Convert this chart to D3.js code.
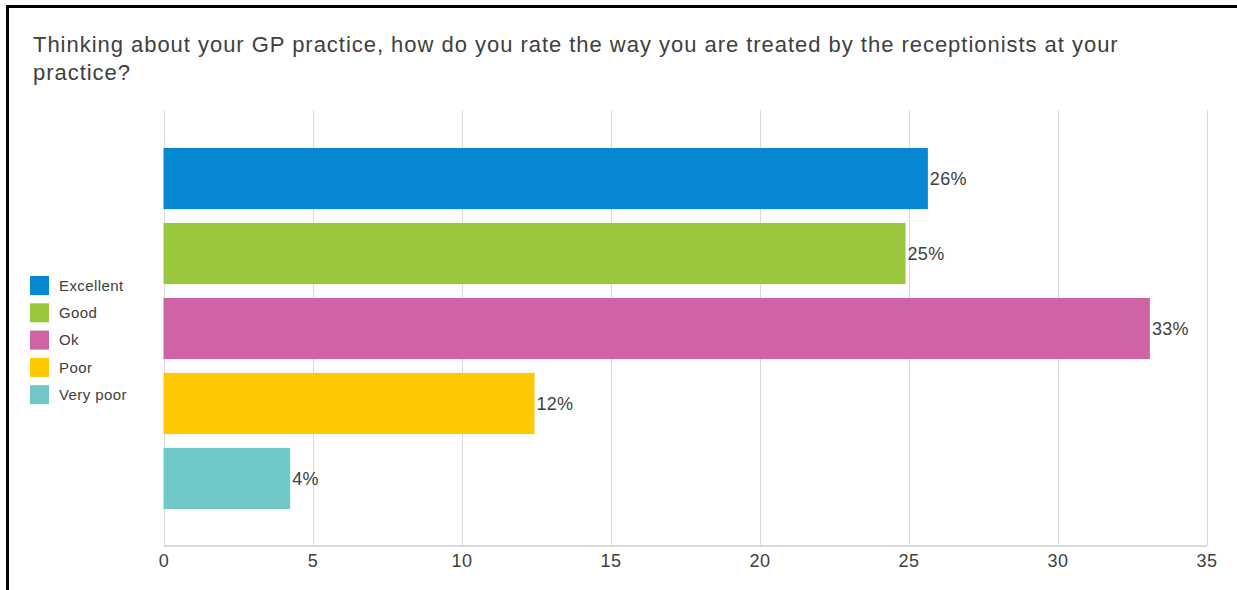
<!DOCTYPE html>
<html>
<head>
<meta charset="utf-8">
<script src="https://cdn.jsdelivr.net/npm/d3@7"></script>
<style>
  html, body { margin: 0; padding: 0; background: #fff; }
  svg { display: block; font-family: "Liberation Sans", Arial, sans-serif; }
</style>
</head>
<body>
<svg id="chart" width="1237" height="590"></svg>
<script>
// Survey answers and their shares (percent of respondents)
const categories = ["Excellent", "Good", "Ok", "Poor", "Very poor"];
const values = [25.65, 24.9, 33.1, 12.45, 4.25];
const colors = ["#0788d2", "#9ac73e", "#d063a5", "#fec902", "#71c9c7"];
const xTicks = [0, 5, 10, 15, 20, 25, 30, 35];
const titleLines = [
  "Thinking about your GP practice, how do you rate the way you are treated by the receptionists at your",
  "practice?"
];

const svg = d3.select("#chart");
const textColor = "#404040";

// outer frame (left and top edges visible)
svg.append("rect")
  .attr("x", 7.5).attr("y", 6.5)
  .attr("width", 1240).attr("height", 600)
  .attr("fill", "none").attr("stroke", "#000").attr("stroke-width", 3);

// title
const title = svg.append("text")
  .attr("x", 33).attr("y", 52)
  .attr("fill", textColor)
  .style("font-size", "22px")
  .style("letter-spacing", "0.97px");
titleLines.forEach((line, i) => {
  title.append("tspan").attr("x", 33).attr("dy", i === 0 ? 0 : 28).text(line);
});

// scales
const x = d3.scaleLinear().domain([0, 35]).range([163.5, 1206.5]);
const y = d3.scaleBand().domain(categories).range([148, 509]).paddingInner(0.185).paddingOuter(0);
const plotTop = 110, plotBottom = 545.5;

// vertical gridlines
svg.append("g").selectAll("line")
  .data(xTicks)
  .join("line")
  .attr("x1", d => Math.round(x(d)) + 0.5).attr("x2", d => Math.round(x(d)) + 0.5)
  .attr("y1", plotTop).attr("y2", plotBottom)
  .attr("stroke", "#dadada").attr("stroke-width", 1);

// baseline axis with tick labels
const axis = svg.append("g")
  .attr("transform", `translate(0,${plotBottom})`)
  .call(d3.axisBottom(x).tickValues(xTicks).tickSize(0).tickPadding(9).tickFormat(d3.format("d")));
axis.select(".domain").attr("stroke", "#dadada").attr("stroke-width", 2);
axis.selectAll("text")
  .attr("fill", textColor)
  .style("font-size", "18px")
  .style("letter-spacing", "0.5px")
  .style("font-family", "Liberation Sans, Arial, sans-serif");

// bars
svg.append("g").selectAll("rect")
  .data(values)
  .join("rect")
  .attr("x", x(0))
  .attr("y", (d, i) => y(categories[i]))
  .attr("width", d => x(d) - x(0))
  .attr("height", y.bandwidth())
  .attr("fill", (d, i) => colors[i]);

// value labels
svg.append("g").selectAll("text")
  .data(values)
  .join("text")
  .attr("x", d => x(d) + 2)
  .attr("y", (d, i) => y(categories[i]) + y.bandwidth() / 2)
  .attr("dy", "0.36em")
  .attr("fill", textColor)
  .style("font-size", "18px")
  .style("letter-spacing", "0.3px")
  .text(d => Math.round(d) + "%");

// legend
const legend = svg.append("g").attr("transform", "translate(30,276)");
const item = legend.selectAll("g")
  .data(categories)
  .join("g")
  .attr("transform", (d, i) => `translate(0,${i * 27.3})`);
item.append("rect")
  .attr("width", 19).attr("height", 19)
  .attr("fill", (d, i) => colors[i]);
item.append("text")
  .attr("x", 29).attr("y", 9.5).attr("dy", "0.36em")
  .attr("fill", textColor)
  .style("font-size", "15px")
  .style("letter-spacing", "0.4px")
  .text(d => d);
</script>
</body>
</html>
